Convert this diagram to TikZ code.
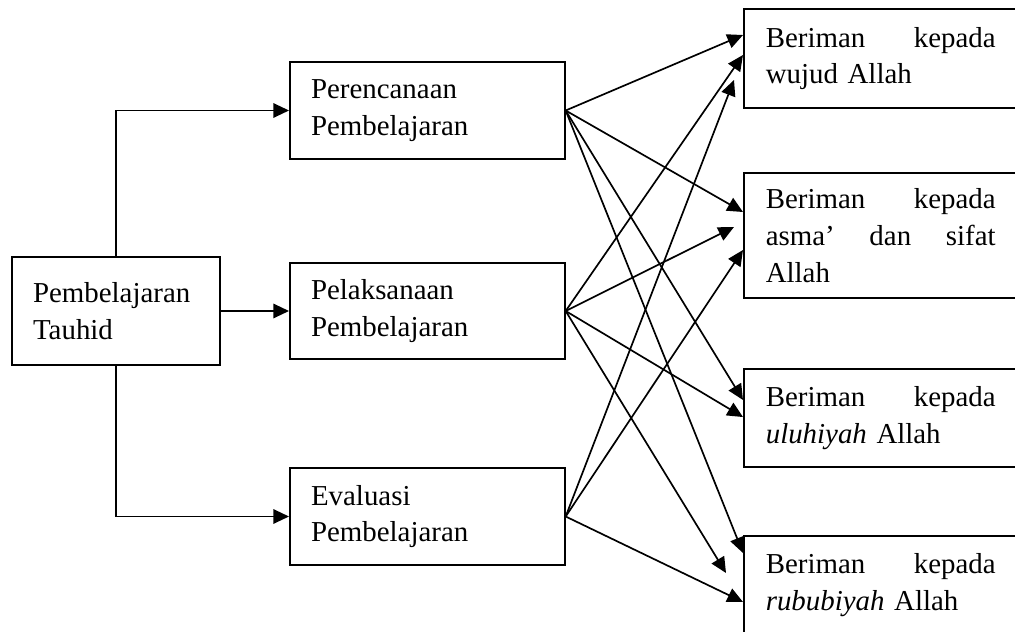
\documentclass[tikz,border=0pt]{standalone}
\usepackage{fontspec}
\setmainfont{Liberation Serif}
\usetikzlibrary{arrows.meta}

\tikzset{
	kotak/.style={draw, line width=0.75pt, inner xsep=8.8pt, align=left, font=\fontsize{12}{15.3}\selectfont},
	kotakkanan/.style={kotak, anchor=west, inner xsep=9.1pt, text width=95.5pt},
	panah/.style={line width=0.7pt, -{Triangle[length=6.5pt,width=6pt]}}
}

\begin{document}
\begin{tikzpicture}[x=0.0146cm, y=-0.0146cm]
	
	\clip (0,0) rectangle (1015,632);
	
	%Kotak kiri
	\node[kotak, anchor=west, text width=69pt, minimum height=44.9pt] (tauhid) at (11,311) {Pembelajaran\\Tauhid};
	
	%Kotak tengah
	\node[kotak, anchor=west, text width=96.6pt, minimum height=40.3pt] (rencana) at (289,110.5) {Perencanaan\\Pembelajaran};
	\node[kotak, anchor=west, text width=96.6pt, minimum height=40pt] (laksana) at (289,311) {Pelaksanaan\\Pembelajaran};
	\node[kotak, anchor=west, text width=96.6pt, minimum height=40.3pt] (evaluasi) at (289,516.5) {Evaluasi\\Pembelajaran};
	
	%Kotak kanan
	\node[kotakkanan, minimum height=41.1pt] (wujud) at (743,58.5) {Beriman\hfill kepada\\wujud Allah};
	\node[kotakkanan, minimum height=51.9pt] (asma) at (743,235.5) {Beriman\hfill kepada\\asma’\hfill dan\hfill sifat\\Allah};
	\node[kotakkanan, minimum height=40.7pt] (uluhiyah) at (743,418) {Beriman\hfill kepada\\\textit{uluhiyah} Allah};
	\node[kotakkanan, minimum height=41.1pt] (rububiyah) at (743,585.5) {Beriman\hfill kepada\\\textit{rububiyah} Allah};
	
	%Panah kiri
	\begin{scope}
	\draw[panah] (tauhid.north) |- (rencana.west);
	\draw[panah] (tauhid.east) -- (laksana.west);
	\draw[panah] (tauhid.south) |- (evaluasi.west);
	\end{scope}
	
	%Panah kanan
	\begin{scope}
	\draw[panah] (rencana.east) -- ([yshift=9.76pt]wujud.west);
	\draw[panah] (rencana.east) -- ([yshift=9.76pt]asma.west);
	\draw[panah] (rencana.east) -- ([yshift=7.48pt]uluhiyah.west);
	\draw[panah] (rencana.east) -- ([yshift=13.5pt]rububiyah.west);
	
	\draw[panah] (laksana.east) -- ([yshift=1.45pt]wujud.west);
	\draw[panah] (laksana.east) -- ([xshift=-3.74pt,yshift=3.53pt]asma.west);
	\draw[panah] (laksana.east) -- ([yshift=0.4pt]uluhiyah.west);
	\draw[panah] (laksana.east) -- ([xshift=-7.06pt,yshift=5.19pt]rububiyah.west);
	
	\draw[panah] (evaluasi.east) -- ([xshift=-3.74pt,yshift=-8.93pt]wujud.west);
	\draw[panah] (evaluasi.east) -- ([yshift=-6.02pt]asma.west);
	\draw[panah] (evaluasi.east) -- ([yshift=-6.85pt]rububiyah.west);
	\end{scope}
	
\end{tikzpicture}
\end{document}
